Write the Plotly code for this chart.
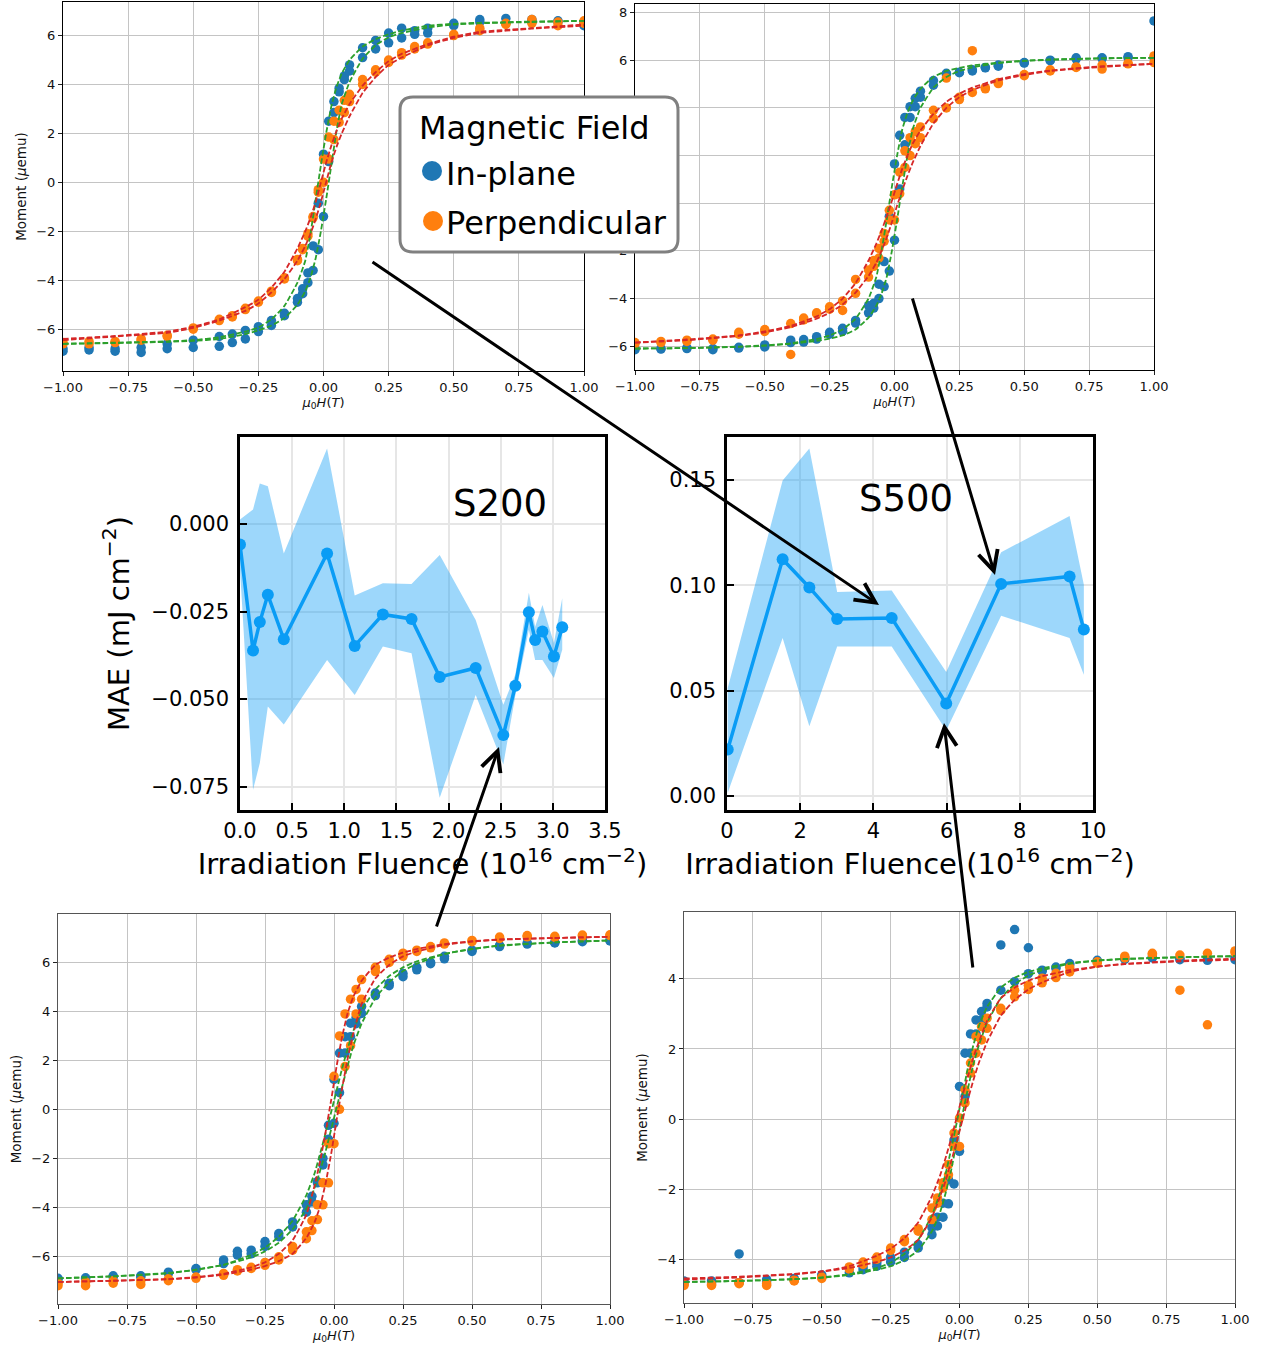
import plotly.graph_objects as go

W, HT = 1263, 1352
FONT = "DejaVu Sans"

# ---------------- data: hysteresis loops ----------------
H_FIELD = [-1, -0.9, -0.8, -0.7, -0.6, -0.5, -0.4, -0.35, -0.3, -0.25, -0.2, -0.15, -0.1, -0.08, -0.06,
           -0.04, -0.02, 0, 0.02, 0.04, 0.06, 0.08, 0.1, 0.15, 0.2, 0.25, 0.3, 0.35, 0.4, 0.5, 0.6, 0.7,
           0.8, 0.9, 1.0]
H_FIT = [-1, -0.8, -0.6, -0.5, -0.4, -0.3, -0.25, -0.2, -0.15, -0.1, -0.07, -0.05, -0.03, -0.01, 0,
         0.01, 0.03, 0.05, 0.07, 0.1, 0.15, 0.2, 0.25, 0.3, 0.4, 0.5, 0.6, 0.8, 1.0]

# top-left sample
TL_IP_A = [-6.8, -6.75, -6.8, -6.75, -6.6, -6.45, -6.3, -6.2, -6.05, -5.9, -5.65, -5.35, -4.75, -4.35, -3.7,
           -2.6, -0.85, 1.15, 2.5, 3.3, 3.85, 4.35, 4.8, 5.5, 5.8, 6.1, 6.3, 6.2, 6.3, 6.5, 6.65, 6.7, 6.65, 6.6, 6.5]
TL_IP_B = [-6.9, -6.85, -6.9, -6.95, -6.8, -6.75, -6.7, -6.55, -6.4, -6.1, -5.85, -5.45, -4.9, -4.55, -4.1,
           -3.6, -2.75, -1.4, 0.85, 2.85, 3.7, 4.2, 4.55, 5.1, 5.45, 5.7, 5.9, 6.05, 6.1, 6.4, 6.55, 6.5, 6.55, 6.55, 6.4]
TL_PP_A = [-6.55, -6.5, -6.5, -6.4, -6.25, -5.95, -5.6, -5.45, -5.15, -4.85, -4.45, -3.9, -3.15, -2.7, -2.1,
           -1.4, -0.3, 0.95, 1.85, 2.5, 2.95, 3.35, 3.6, 4.2, 4.6, 5.0, 5.3, 5.55, 5.7, 6.05, 6.3, 6.5, 6.65, 6.55, 6.6]
TL_PP_B = [-6.6, -6.6, -6.55, -6.45, -6.3, -6.0, -5.65, -5.5, -5.2, -4.9, -4.5, -3.95, -3.2, -2.75, -2.2,
           -1.45, -0.4, 0.0, 0.95, 1.75, 2.45, 2.85, 3.3, 4.0, 4.5, 4.9, 5.2, 5.45, 5.65, 6.0, 6.2, 6.45, 6.5, 6.4, 6.5]
TL_FIT_IP_DOWN = [-6.6, -6.55, -6.5, -6.45, -6.33, -6.1, -5.93, -5.6, -5.05, -4.1, -3.2, -2.1, -0.7, 0.7, 1.35,
                  2.0, 3.1, 3.9, 4.45, 5.0, 5.55, 5.85, 6.05, 6.2, 6.4, 6.48, 6.52, 6.57, 6.6]
TL_FIT_IP_UP = [-6.6, -6.57, -6.52, -6.48, -6.4, -6.2, -6.05, -5.85, -5.55, -5.0, -4.45, -3.9, -3.1, -2.0, -1.35,
                -0.7, 0.7, 2.1, 3.2, 4.1, 5.05, 5.6, 5.93, 6.1, 6.33, 6.45, 6.5, 6.55, 6.6]
TL_FIT_PP_DOWN = [-6.4, -6.28, -6.1, -5.9, -5.6, -5.1, -4.8, -4.3, -3.65, -2.7, -2.0, -1.45, -0.8, 0.0, 0.4,
                  0.8, 1.5, 2.1, 2.6, 3.2, 3.95, 4.5, 4.95, 5.25, 5.65, 5.95, 6.15, 6.3, 6.45]
TL_FIT_PP_UP = [-6.45, -6.3, -6.15, -5.95, -5.65, -5.25, -4.95, -4.5, -3.95, -3.2, -2.6, -2.1, -1.5, -0.8, -0.4,
                0.0, 0.8, 1.45, 2.0, 2.7, 3.65, 4.3, 4.8, 5.1, 5.6, 5.9, 6.1, 6.28, 6.4]

# top-right sample
TR_IP_A = [-6.1, -6.1, -6.07, -6.15, -6.05, -5.95, -5.75, -5.72, -5.6, -5.42, -5.25, -4.92, -4.3, -4.2, -3.4,
           -2.45, -0.55, 1.65, 2.85, 3.6, 4.05, 4.4, 4.7, 5.15, 5.45, 5.5, 5.6, 5.7, 5.8, 5.9, 6.0, 6.1, 6.07, 6.15, 7.65]
TR_IP_B = [-6.15, -6.12, -6.1, -6.1, -6.08, -6.03, -5.85, -5.83, -5.7, -5.5, -5.37, -5.03, -4.6, -4.4, -4.0,
           -3.5, -2.85, -1.55, 0.6, 2.45, 3.6, 4.05, 4.45, 4.95, 5.4, 5.48, 5.55, 5.68, 5.75, 5.88, 5.98, 6.05, 6.1, 6.1, 6.1]
TR_PP_A = [-5.85, -5.8, -5.75, -5.7, -5.42, -5.3, -5.05, -4.82, -4.6, -4.35, -4.1, -3.2, -2.8, -2.4, -1.9,
           -1.27, -0.3, 0.35, 1.3, 2.2, 2.75, 3.0, 3.2, 3.9, 5.25, 4.45, 6.4, 4.85, 5.07, 5.4, 5.6, 5.72, 5.8, 5.87, 6.18]
TR_PP_B = [-5.9, -5.85, -5.8, -5.75, -5.5, -5.38, -6.35, -4.9, -4.65, -4.45, -4.5, -3.78, -3.1, -2.65, -2.3,
           -1.6, -0.7, -0.7, 0.4, 1.5, 2.0, 2.5, 2.75, 3.55, 4.0, 4.35, 4.65, 4.8, 5.02, 5.35, 5.55, 5.7, 5.63, 5.85, 5.9]
TR_FIT_IP_DOWN = [-6.1, -6.08, -6.02, -5.97, -5.88, -5.7, -5.55, -5.3, -4.85, -4.0, -3.1, -2.0, -0.7, 0.7, 1.35,
                  2.0, 3.1, 3.8, 4.3, 4.8, 5.3, 5.55, 5.68, 5.78, 5.9, 5.98, 6.03, 6.08, 6.1]
TR_FIT_IP_UP = [-6.1, -6.08, -6.03, -5.98, -5.9, -5.78, -5.68, -5.55, -5.3, -4.8, -4.3, -3.8, -3.1, -2.0, -1.35,
                -0.7, 0.7, 2.0, 3.1, 4.0, 4.85, 5.3, 5.55, 5.7, 5.88, 5.97, 6.02, 6.08, 6.1]
TR_FIT_PP_DOWN = [-5.85, -5.72, -5.55, -5.38, -5.15, -4.75, -4.45, -4.0, -3.35, -2.4, -1.7, -1.15, -0.55, 0.1, 0.45,
                  0.8, 1.45, 2.0, 2.5, 3.05, 3.75, 4.25, 4.6, 4.85, 5.2, 5.42, 5.57, 5.75, 5.85]
TR_FIT_PP_UP = [-5.85, -5.75, -5.57, -5.42, -5.2, -4.85, -4.6, -4.25, -3.75, -3.05, -2.5, -2.0, -1.45, -0.8, -0.45,
                -0.1, 0.55, 1.15, 1.7, 2.4, 3.35, 4.0, 4.45, 4.75, 5.15, 5.38, 5.55, 5.72, 5.85]
# y tick labels of the top-right panel (0, 2, 4 are covered by the legend box in the original)
TR_YTICKS = [-6, -4, -2, 0, 2, 4, 6, 8]
TR_YTICKTEXT = ["−6", "−4", "−2", "", "", "", "6", "8"]

# bottom-left sample
BL_IP_A = [-6.9, -6.88, -6.8, -6.8, -6.65, -6.5, -6.15, -5.8, -5.75, -5.4, -5.07, -4.6, -3.9, -3.55, -2.95,
           -2.0, -0.65, 1.22, 2.3, 2.97, 3.52, 3.75, 4.2, 4.75, 5.15, 5.55, 5.8, 6.0, 6.25, 6.5, 6.7, 6.8, 6.82, 6.9, 6.92]
BL_IP_B = [-6.95, -6.92, -6.85, -6.85, -6.7, -6.55, -6.3, -5.95, -5.9, -5.6, -5.2, -4.8, -4.2, -3.78, -3.0,
           -2.27, -1.22, -0.57, 0.68, 2.3, 2.97, 3.5, 3.92, 4.65, 5.05, 5.42, 5.7, 5.95, 6.15, 6.45, 6.65, 6.75, 6.8, 6.85, 6.88]
BL_PP_A = [-7.1, -7.05, -7.0, -7.0, -6.92, -6.85, -6.7, -6.55, -6.45, -6.25, -6.02, -5.6, -5.0, -4.55, -3.9,
           -3.0, -1.4, 1.35, 3.0, 3.9, 4.5, 4.9, 5.3, 5.8, 6.13, 6.38, 6.5, 6.65, 6.8, 6.9, 7.04, 7.1, 7.07, 7.12, 7.13]
BL_PP_B = [-7.2, -7.2, -7.1, -7.15, -7.0, -6.9, -6.78, -6.6, -6.5, -6.37, -6.15, -5.75, -5.28, -4.95, -4.5,
           -3.9, -3.0, -1.4, 0.0, 1.75, 2.6, 3.9, 4.5, 5.63, 6.0, 6.25, 6.45, 6.6, 6.75, 6.85, 6.98, 7.05, 7.02, 7.08, 7.1]
BL_FIT_IP_DOWN = [-6.9, -6.82, -6.7, -6.55, -6.35, -5.95, -5.65, -5.2, -4.55, -3.5, -2.6, -1.8, -0.95, -0.1, 0.35,
                  0.8, 1.7, 2.5, 3.2, 4.05, 4.9, 5.45, 5.8, 6.05, 6.35, 6.55, 6.68, 6.82, 6.9]
BL_FIT_IP_UP = [-6.9, -6.82, -6.68, -6.55, -6.35, -6.05, -5.8, -5.45, -4.9, -4.05, -3.2, -2.5, -1.7, -0.8, -0.35,
                0.1, 0.95, 1.8, 2.6, 3.5, 4.55, 5.2, 5.65, 5.95, 6.35, 6.55, 6.7, 6.82, 6.9]
BL_FIT_PP_DOWN = [-7.05, -7.0, -6.93, -6.85, -6.72, -6.45, -6.25, -5.9, -5.35, -4.3, -3.1, -2.1, -0.9, 0.4, 1.1,
                  1.8, 3.0, 3.95, 4.6, 5.25, 5.9, 6.2, 6.4, 6.55, 6.75, 6.87, 6.94, 7.0, 7.05]
BL_FIT_PP_UP = [-7.05, -7.0, -6.94, -6.87, -6.75, -6.55, -6.4, -6.2, -5.9, -5.25, -4.6, -3.95, -3.0, -1.8, -1.1,
                -0.4, 0.9, 2.1, 3.1, 4.3, 5.35, 5.9, 6.25, 6.45, 6.72, 6.85, 6.93, 7.0, 7.05]

# bottom-right sample
BR_IP_A = [-4.62, -4.62, -3.85, -4.58, -4.55, -4.45, -4.25, -4.22, -4.1, -3.95, -3.8, -3.58, -3.1, -2.8, -2.4,
           -1.73, -0.6, 0.93, 1.88, 2.43, 2.83, 3.07, 3.3, 4.97, 5.41, 4.89, 4.25, 4.34, 4.44, 4.53, 4.58, 4.63, 4.58, 4.56, 4.58]
BR_IP_B = [-4.67, -4.67, -4.67, -4.62, -4.6, -4.5, -4.39, -4.3, -4.2, -4.08, -3.95, -3.68, -3.3, -3.05, -2.8,
           -2.42, -1.85, -0.92, 0.65, 1.88, 2.43, 2.83, 3.2, 3.68, 3.92, 4.15, 4.22, 4.3, 4.4, 4.5, 4.56, 4.6, 4.55, 4.53, 4.55]
BR_PP_A = [-4.72, -4.72, -4.67, -4.7, -4.6, -4.51, -4.22, -4.08, -3.94, -3.68, -3.44, -3.13, -2.54, -2.25, -1.82,
           -1.3, -0.4, 0.03, 0.84, 1.6, 2.36, 2.64, 2.88, 3.16, 3.68, 3.82, 4.02, 4.16, 4.33, 4.49, 4.65, 4.73, 4.68, 4.73, 4.8]
BR_PP_B = [-4.75, -4.75, -4.7, -4.75, -4.62, -4.55, -4.28, -4.15, -4.0, -3.75, -3.5, -3.2, -2.87, -2.4, -1.97,
           -1.59, -0.78, -0.78, 0.46, 1.31, 1.88, 2.26, 2.59, 3.1, 3.49, 3.7, 3.89, 4.04, 4.2, 4.45, 4.6, 4.7, 3.68, 2.69, 4.75]
BR_FIT_IP_DOWN = [-4.65, -4.62, -4.57, -4.52, -4.43, -4.25, -4.1, -3.85, -3.45, -2.75, -2.1, -1.55, -0.85, -0.1, 0.3,
                  0.65, 1.45, 2.1, 2.65, 3.2, 3.75, 4.03, 4.2, 4.3, 4.45, 4.53, 4.57, 4.62, 4.65]
BR_FIT_IP_UP = [-4.65, -4.62, -4.57, -4.53, -4.45, -4.3, -4.2, -4.03, -3.75, -3.2, -2.65, -2.1, -1.45, -0.65, -0.3,
                0.1, 0.85, 1.55, 2.1, 2.75, 3.45, 3.85, 4.1, 4.25, 4.43, 4.52, 4.57, 4.62, 4.65]
BR_FIT_PP_DOWN = [-4.58, -4.52, -4.43, -4.35, -4.2, -3.9, -3.7, -3.4, -2.95, -2.2, -1.6, -1.1, -0.55, 0.05, 0.35,
                  0.65, 1.2, 1.75, 2.2, 2.8, 3.45, 3.75, 3.95, 4.08, 4.25, 4.35, 4.42, 4.5, 4.55]
BR_FIT_PP_UP = [-4.55, -4.5, -4.42, -4.35, -4.25, -4.08, -3.95, -3.75, -3.45, -2.8, -2.2, -1.75, -1.2, -0.65, -0.35,
                -0.05, 0.55, 1.1, 1.6, 2.2, 2.95, 3.4, 3.7, 3.9, 4.2, 4.35, 4.43, 4.52, 4.58]

# ---------------- data: MAE vs fluence ----------------
S200_X = [0.0, 0.125, 0.19, 0.267, 0.42, 0.835, 1.10, 1.37, 1.645, 1.915, 2.26, 2.525, 2.64, 2.77, 2.83, 2.90, 3.01, 3.09]
S200_Y = [-0.0058, -0.0361, -0.0280, -0.0202, -0.0329, -0.0084, -0.0348, -0.0258, -0.0271, -0.0437, -0.0411,
          -0.0603, -0.0462, -0.0252, -0.0331, -0.0307, -0.0378, -0.0295]
S200_HI = [0.0013, 0.0042, 0.0116, 0.0108, -0.0084, 0.0216, -0.0204, -0.0169, -0.0171, -0.0088, -0.0274,
           -0.0516, -0.043, -0.0196, -0.0293, -0.0231, -0.034, -0.0212]
S200_LO = [-0.013, -0.0759, -0.0683, -0.0521, -0.0573, -0.0388, -0.0488, -0.035, -0.0369, -0.0782, -0.0488,
           -0.0687, -0.049, -0.0302, -0.0388, -0.0388, -0.044, -0.0359]

S500_X = [0.02, 1.52, 2.25, 3.01, 4.5, 5.99, 7.49, 9.36, 9.75]
S500_Y = [0.0221, 0.1124, 0.099, 0.084, 0.0845, 0.0439, 0.1007, 0.1042, 0.079]
S500_HI = [0.0513, 0.1497, 0.165, 0.0968, 0.0976, 0.0589, 0.1157, 0.1329, 0.1003]
S500_LO = [0.0016, 0.075, 0.0332, 0.071, 0.071, 0.0311, 0.0856, 0.075, 0.0576]

# ---------------- layout helpers ----------------
def fx(p):
    return p / W


def fy(p):
    return 1 - p / HT


BLUE, ORANGE, GREEN, RED = "#1f77b4", "#ff7f0e", "#2ca02c", "#d62728"
MAE_LINE = "#0a9cf5"
MAE_FILL = "rgba(10,156,245,0.4)"

fig = go.Figure()


def ax_ids(i):
    return ("x" if i == 1 else f"x{i}"), ("y" if i == 1 else f"y{i}")


def add_hyst(i, ipa, ipb, ppa, ppb, gd, gu, rd, ru):
    xa, ya = ax_ids(i)
    for ys in (ipa, ipb):
        fig.add_trace(go.Scatter(x=H_FIELD, y=ys, mode="markers", xaxis=xa, yaxis=ya,
                                 marker=dict(color=BLUE, size=9.5), showlegend=False))
    for ys in (ppa, ppb):
        fig.add_trace(go.Scatter(x=H_FIELD, y=ys, mode="markers", xaxis=xa, yaxis=ya,
                                 marker=dict(color=ORANGE, size=9.5), showlegend=False))
    for ys, c in ((gd, GREEN), (gu, GREEN), (rd, RED), (ru, RED)):
        fig.add_trace(go.Scatter(x=H_FIT, y=ys, mode="lines", xaxis=xa, yaxis=ya,
                                 line=dict(color=c, width=1.8, dash="5.5px,2.4px", shape="spline", smoothing=0.4),
                                 showlegend=False))


add_hyst(1, TL_IP_A, TL_IP_B, TL_PP_A, TL_PP_B, TL_FIT_IP_DOWN, TL_FIT_IP_UP, TL_FIT_PP_DOWN, TL_FIT_PP_UP)
add_hyst(2, TR_IP_A, TR_IP_B, TR_PP_A, TR_PP_B, TR_FIT_IP_DOWN, TR_FIT_IP_UP, TR_FIT_PP_DOWN, TR_FIT_PP_UP)
add_hyst(5, BL_IP_A, BL_IP_B, BL_PP_A, BL_PP_B, BL_FIT_IP_DOWN, BL_FIT_IP_UP, BL_FIT_PP_DOWN, BL_FIT_PP_UP)
add_hyst(6, BR_IP_A, BR_IP_B, BR_PP_A, BR_PP_B, BR_FIT_IP_DOWN, BR_FIT_IP_UP, BR_FIT_PP_DOWN, BR_FIT_PP_UP)


def add_mae(i, xs, ys, hi, lo):
    xa, ya = ax_ids(i)
    fig.add_trace(go.Scatter(x=xs + xs[::-1], y=hi + lo[::-1], mode="lines", fill="toself",
                             fillcolor=MAE_FILL, line=dict(width=0), xaxis=xa, yaxis=ya,
                             showlegend=False, hoverinfo="skip"))
    fig.add_trace(go.Scatter(x=xs, y=ys, mode="lines+markers", xaxis=xa, yaxis=ya,
                             line=dict(color=MAE_LINE, width=3.5),
                             marker=dict(color=MAE_LINE, size=12), showlegend=False))


add_mae(3, S200_X, S200_Y, S200_HI, S200_LO)
add_mae(4, S500_X, S500_Y, S500_HI, S500_LO)

# ---------------- axes ----------------
HX_TITLE = "<i>μ</i><sub>0</sub><i>H</i>(<i>T</i>)"
HY_TITLE = "Moment (<i>μ</i>emu)"


def hyst_axes(px_x0, px_x1, px_y0, px_y1, yrange, spine, anchor_x, anchor_y, ytitle):
    common = dict(showline=True, mirror=True, linecolor=spine, linewidth=1, ticks="outside",
                  ticklen=4, tickwidth=1, tickcolor="#222", showgrid=True, gridcolor="#c4c4c4",
                  gridwidth=1, zeroline=False, automargin=False,
                  tickfont=dict(family=FONT, size=13, color="#111"))
    xa = dict(common, domain=[fx(px_x0), fx(px_x1)], range=[-1, 1], dtick=0.25, tick0=0,
              tickformat=".2f", anchor=anchor_y,
              title=dict(text=HX_TITLE, font=dict(family=FONT, size=13, color="#111"), standoff=2))
    ya = dict(common, domain=[fy(px_y1), fy(px_y0)], range=yrange, dtick=2, tick0=0, anchor=anchor_x,
              title=dict(text=ytitle, font=dict(family=FONT, size=13.5, color="#111"), standoff=6))
    return xa, ya


def mae_axes(px_x0, px_x1, px_y0, px_y1, xrange, xdtick, xfmt, yrange, ydtick, yfmt, anchor_x, anchor_y, ytitle):
    common = dict(showline=True, mirror=True, linecolor="black", linewidth=2.5, ticks="inside",
                  ticklen=7, tickwidth=1.5, tickcolor="black", showgrid=True, gridcolor="#e6e6e6",
                  gridwidth=1.5, zeroline=False, automargin=False,
                  tickfont=dict(family=FONT, size=21, color="black"))
    xa = dict(common, domain=[fx(px_x0), fx(px_x1)], range=xrange, dtick=xdtick, tick0=0,
              tickformat=xfmt, anchor=anchor_y, ticklabelstandoff=0,
              title=dict(text="Irradiation Fluence (10<sup>16</sup> cm<sup>−2</sup>)",
                         font=dict(family=FONT, size=29, color="black"), standoff=11))
    ya = dict(common, domain=[fy(px_y1), fy(px_y0)], range=yrange, dtick=ydtick, tick0=0,
              tickformat=yfmt, anchor=anchor_x, ticklabelstandoff=4,
              title=dict(text=ytitle, font=dict(family=FONT, size=29, color="black"), standoff=14))
    return xa, ya


x1, y1 = hyst_axes(63, 584, 2, 371, [-7.71, 7.37], "black", "x", "y", HY_TITLE)
# the top-right y-axis title sits under the legend box in the original, so it is not shown
x2, y2 = hyst_axes(635, 1154, 4, 370, [-7.0, 8.36], "black", "x2", "y2", "")
y2.update(tickmode="array", tickvals=TR_YTICKS, ticktext=TR_YTICKTEXT)
x5, y5 = hyst_axes(58, 610, 914, 1304, [-7.95, 7.98], "#555555", "x5", "y5", HY_TITLE)
x6, y6 = hyst_axes(684, 1235, 912, 1303, [-5.25, 5.91], "#555555", "x6", "y6", HY_TITLE)
x3, y3 = mae_axes(240, 605, 437, 810, [0, 3.5], 0.5, ".1f", [-0.0817, 0.0249], 0.025, ".3f", "x3", "y3",
                  "MAE (mJ cm<sup>−2</sup>)")
x4, y4 = mae_axes(727, 1093, 437, 810, [0, 10], 2, "d", [-0.0066, 0.1704], 0.05, ".2f", "x4", "y4", "")

fig.update_layout(xaxis=x1, yaxis=y1, xaxis2=x2, yaxis2=y2, xaxis3=x3, yaxis3=y3,
                  xaxis4=x4, yaxis4=y4, xaxis5=x5, yaxis5=y5, xaxis6=x6, yaxis6=y6)

# ---------------- annotations ----------------
ann = []
ann.append(dict(text="S200", x=2.49, y=0.006, xref="x3", yref="y3", showarrow=False,
                font=dict(family=FONT, size=37, color="black")))
ann.append(dict(text="S500", x=4.9, y=0.1413, xref="x4", yref="y4", showarrow=False,
                font=dict(family=FONT, size=37, color="black")))

# arrows: (tail_px, tail_py, head_px, head_py)
ARROWS = [(371, 261, 879, 605), (912, 297, 995, 575), (436, 928, 499, 747), (973, 969, 944, 723)]
for tx, ty, hx, hy in ARROWS:
    ann.append(dict(x=fx(hx), y=fy(hy), xref="paper", yref="paper", ax=tx - hx, ay=ty - hy,
                    axref="pixel", ayref="pixel", text="", showarrow=True, arrowhead=5,
                    arrowsize=1.3, arrowwidth=3, arrowcolor="black"))

# legend box texts
ann.append(dict(text="Magnetic Field", x=fx(417), y=fy(128), xref="paper", yref="paper", showarrow=False,
                xanchor="left", yanchor="middle", font=dict(family=FONT, size=32, color="black")))
ann.append(dict(text="In-plane", x=fx(444), y=fy(174), xref="paper", yref="paper", showarrow=False,
                xanchor="left", yanchor="middle", font=dict(family=FONT, size=32, color="black")))
ann.append(dict(text="Perpendicular", x=fx(444), y=fy(223), xref="paper", yref="paper", showarrow=False,
                xanchor="left", yanchor="middle", font=dict(family=FONT, size=32, color="black")))

# legend frame (rounded rectangle) and markers
bx0, by0, bx1, by1, r = 400, 97, 678, 252, 13
path = (f"M {fx(bx0 + r)},{fy(by0)} L {fx(bx1 - r)},{fy(by0)} Q {fx(bx1)},{fy(by0)} {fx(bx1)},{fy(by0 + r)} "
        f"L {fx(bx1)},{fy(by1 - r)} Q {fx(bx1)},{fy(by1)} {fx(bx1 - r)},{fy(by1)} "
        f"L {fx(bx0 + r)},{fy(by1)} Q {fx(bx0)},{fy(by1)} {fx(bx0)},{fy(by1 - r)} "
        f"L {fx(bx0)},{fy(by0 + r)} Q {fx(bx0)},{fy(by0)} {fx(bx0 + r)},{fy(by0)} Z")
shapes = [dict(type="path", path=path, xref="paper", yref="paper", layer="above",
               line=dict(color="#808080", width=3), fillcolor="white")]
for cx, cy, col in ((432, 171, BLUE), (433, 221, ORANGE)):
    shapes.append(dict(type="circle", xref="paper", yref="paper", layer="above",
                       x0=fx(cx - 10), x1=fx(cx + 10), y0=fy(cy + 10), y1=fy(cy - 10),
                       fillcolor=col, line=dict(width=0)))

fig.update_layout(width=W, height=HT, margin=dict(l=0, r=0, t=0, b=0, autoexpand=False),
                  paper_bgcolor="white", plot_bgcolor="white",
                  font=dict(family=FONT, color="black"),
                  annotations=ann, shapes=shapes, showlegend=False)

fig.write_html("out.html")
